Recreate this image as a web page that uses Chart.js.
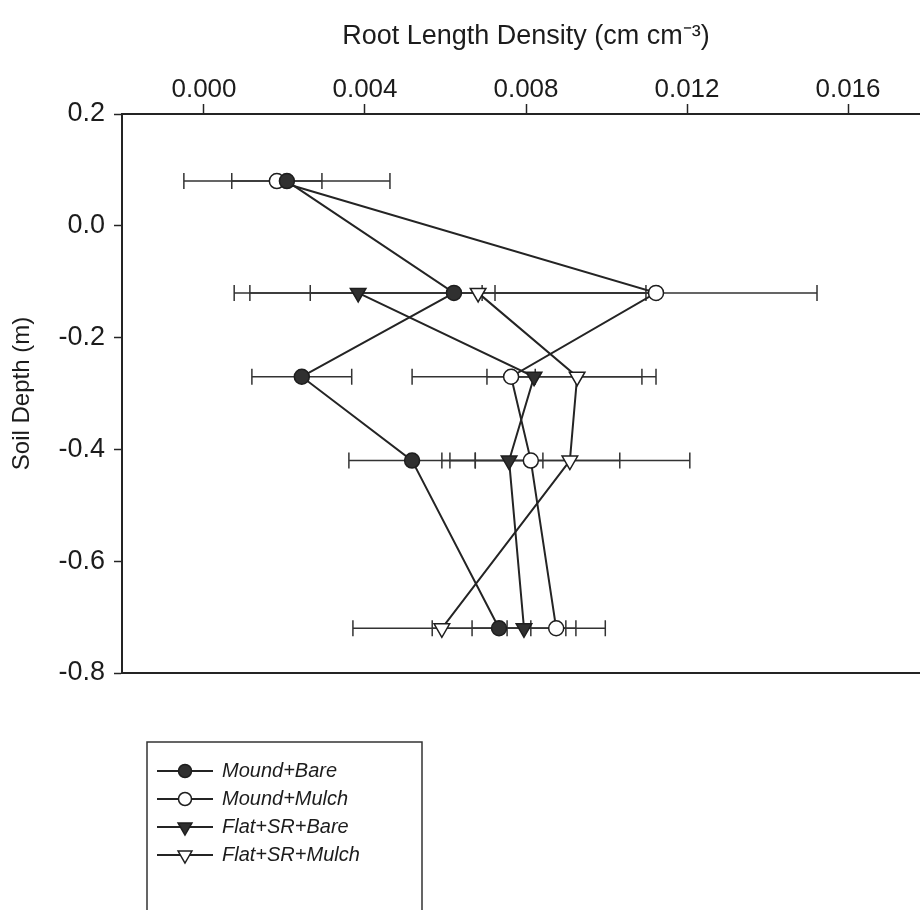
<!DOCTYPE html>
<html>
<head>
<meta charset="utf-8">
<title>Root length density by soil depth</title>
<script src="https://cdn.jsdelivr.net/npm/chart.js@4.4.1/dist/chart.umd.min.js"></script>
<style>
  html, body { margin: 0; padding: 0; background: #fff; overflow: hidden; }
  #rldChart { display: block; }
</style>
</head>
<body>
<canvas id="rldChart" width="930" height="940"></canvas>
<script>
// depth of each sampled layer (m) - flat plots have no mound layer on top
const moundDepths = [0.08, -0.12, -0.27, -0.42, -0.72];
const flatDepths = [-0.12, -0.27, -0.42, -0.72];

// mean root length density and its error bar half-width (cm cm-3)
const moundBare = [0.00206, 0.00621, 0.00243, 0.00517, 0.00733];
const moundBareErr = [0.00256, 0.00507, 0.00124, 0.00157, 0.00166];
const moundMulch = [0.00181, 0.01123, 0.00763, 0.00812, 0.00875];
const moundMulchErr = [0.00112, 0.00400, 0.00060, 0.00221, 0.00122];
const flatBare = [0.00383, 0.00820, 0.00758, 0.00795];
const flatBareErr = [0.00308, 0.00303, 0.00084, 0.00129];
const flatMulch = [0.00681, 0.00927, 0.00909, 0.00591];
const flatMulchErr = [0.00417, 0.00161, 0.00298, 0.00221];

const seriesNames = ['Mound+Bare', 'Mound+Mulch', 'Flat+SR+Bare', 'Flat+SR+Mulch'];
const xTicks = [0, 0.004, 0.008, 0.012, 0.016];
const yTicks = [0.2, 0, -0.2, -0.4, -0.6, -0.8];

const ink = '#242424';
Chart.defaults.font.family = '"Liberation Sans", Arial, sans-serif';
Chart.defaults.color = '#1c1c1c';

function toPoints(xs, ys) {
  return xs.map((v, i) => ({ x: v, y: ys[i] }));
}

function series(label, xs, ys, errs, shape, filled) {
  const tri = shape === 'triangle';
  return {
    label: label,
    data: toPoints(xs, ys),
    errors: errs,
    showLine: true,
    borderColor: ink,
    borderWidth: 2,
    pointStyle: shape,
    pointRotation: tri ? 180 : 0,
    pointRadius: tri ? 9 : 7.5,
    pointHoverRadius: tri ? 9 : 7.5,
    pointBackgroundColor: filled ? '#303030' : '#fff',
    pointBorderColor: '#1e1e1e',
    pointBorderWidth: 1.5
  };
}

// horizontal error bars with end caps, drawn under the markers
const errorBars = {
  id: 'errorBars',
  beforeDatasetsDraw(chart) {
    const { ctx, scales: { x, y } } = chart;
    ctx.save();
    ctx.strokeStyle = '#333';
    ctx.lineWidth = 1.5;
    chart.data.datasets.forEach(ds => {
      ds.data.forEach((p, i) => {
        const lo = x.getPixelForValue(p.x - ds.errors[i]);
        const hi = x.getPixelForValue(p.x + ds.errors[i]);
        const py = y.getPixelForValue(p.y);
        ctx.beginPath();
        ctx.moveTo(lo, py);
        ctx.lineTo(hi, py);
        ctx.moveTo(lo, py - 8);
        ctx.lineTo(lo, py + 8);
        ctx.moveTo(hi, py - 8);
        ctx.lineTo(hi, py + 8);
        ctx.stroke();
      });
    });
    ctx.restore();
  }
};

// bottom edge of the plot frame (top and left come from the axes)
const frame = {
  id: 'frame',
  beforeDatasetsDraw(chart) {
    const { ctx, chartArea: a } = chart;
    ctx.save();
    ctx.strokeStyle = ink;
    ctx.lineWidth = 2;
    ctx.beginPath();
    ctx.moveTo(a.left, a.bottom);
    ctx.lineTo(a.right, a.bottom);
    ctx.stroke();
    ctx.restore();
  }
};

// boxed legend under the plot
const boxLegend = {
  id: 'boxLegend',
  afterDraw(chart) {
    const ctx = chart.ctx;
    const left = 147, top = 742, right = 422;
    ctx.save();
    ctx.strokeStyle = '#333';
    ctx.lineWidth = 1.5;
    ctx.beginPath();
    ctx.moveTo(left, chart.height);
    ctx.lineTo(left, top);
    ctx.lineTo(right, top);
    ctx.lineTo(right, chart.height);
    ctx.stroke();
    ctx.font = 'italic 20px "Liberation Sans", Arial, sans-serif';
    ctx.textBaseline = 'middle';
    chart.data.datasets.forEach((ds, i) => {
      const rowY = 771 + i * 28;
      ctx.strokeStyle = ink;
      ctx.lineWidth = 2;
      ctx.beginPath();
      ctx.moveTo(157, rowY);
      ctx.lineTo(213, rowY);
      ctx.stroke();
      ctx.fillStyle = ds.pointBackgroundColor;
      ctx.strokeStyle = ds.pointBorderColor;
      ctx.lineWidth = 1.5;
      Chart.helpers.drawPoint(ctx, {
        pointStyle: ds.pointStyle,
        rotation: ds.pointRotation,
        radius: ds.pointStyle === 'triangle' ? 8 : 6.5,
        borderWidth: 1.5
      }, 185, rowY);
      ctx.fillStyle = '#1c1c1c';
      ctx.fillText(ds.label, 222, rowY);
    });
    ctx.restore();
  }
};

new Chart(document.getElementById('rldChart'), {
  type: 'scatter',
  data: {
    datasets: [
      series(seriesNames[0], moundBare, moundDepths, moundBareErr, 'circle', true),
      series(seriesNames[1], moundMulch, moundDepths, moundMulchErr, 'circle', false),
      series(seriesNames[2], flatBare, flatDepths, flatBareErr, 'triangle', true),
      series(seriesNames[3], flatMulch, flatDepths, flatMulchErr, 'triangle', false)
    ]
  },
  options: {
    responsive: false,
    animation: false,
    devicePixelRatio: 1,
    layout: { autoPadding: false, padding: { left: 0, top: 0, right: 0, bottom: 267 } },
    plugins: {
      legend: { display: false },
      tooltip: { enabled: false }
    },
    scales: {
      x: {
        type: 'linear',
        position: 'top',
        min: -0.002037,
        max: 0.018037,
        afterFit: s => { s.height = 114; },
        afterBuildTicks: s => { s.ticks = xTicks.map(v => ({ value: v })); },
        ticks: {
          callback: v => v.toFixed(3),
          font: { size: 26 },
          padding: -1,
          maxRotation: 0
        },
        grid: { drawOnChartArea: false, tickLength: 10, color: ink, tickWidth: 1.5 },
        border: { color: ink, width: 2 },
        title: {
          display: true,
          text: 'Root Length Density (cm cm\u207B\u00B3)',
          font: { size: 27 },
          padding: { top: 20 }
        }
      },
      y: {
        type: 'linear',
        min: -0.8,
        max: 0.2,
        afterFit: s => { s.width = 122; },
        afterBuildTicks: s => { s.ticks = yTicks.map(v => ({ value: v })); },
        ticks: {
          callback: v => v.toFixed(1),
          font: { size: 27 },
          padding: 9
        },
        grid: { drawOnChartArea: false, tickLength: 8, color: ink, tickWidth: 1.5 },
        border: { color: ink, width: 2 },
        title: {
          display: true,
          text: 'Soil Depth (m)',
          font: { size: 24 },
          padding: { top: 8 }
        }
      }
    }
  },
  plugins: [errorBars, frame, boxLegend]
});
</script>
</body>
</html>
